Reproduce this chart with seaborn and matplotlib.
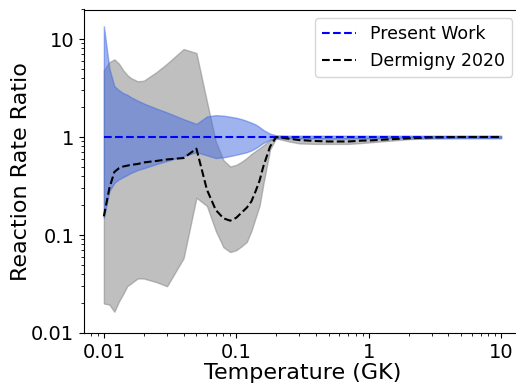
import numpy as np
import pandas as pd
import matplotlib
matplotlib.use("Agg")
import matplotlib.pyplot as plt
import seaborn as sns
from matplotlib.ticker import FixedLocator, FixedFormatter, LogLocator, NullFormatter

# Temperature grid (GK)
temperature = [0.01, 0.011, 0.012, 0.013, 0.014, 0.015, 0.016, 0.018, 0.02, 0.025,
               0.03, 0.04, 0.05, 0.06, 0.07, 0.08, 0.09, 0.1, 0.11, 0.12,
               0.13, 0.14, 0.15, 0.16, 0.18, 0.2, 0.25, 0.3, 0.4, 0.5,
               0.6, 0.7, 0.8, 0.9, 1.0, 1.5, 2.0, 3.0, 5.0, 7.0, 10.0]

# Present work: recommended rate normalised to itself, with low/high bounds
present_median = [1.0] * len(temperature)
present_low = [0.15, 0.28, 0.34, 0.37, 0.39, 0.41, 0.43, 0.46, 0.48, 0.53,
               0.57, 0.64, 0.70, 0.65, 0.61, 0.62, 0.64, 0.66, 0.68, 0.70,
               0.73, 0.77, 0.82, 0.87, 0.94, 0.97, 0.97, 0.97, 0.97, 0.97,
               0.97, 0.97, 0.97, 0.97, 0.97, 0.97, 0.97, 0.97, 0.97, 0.97, 0.97]
present_high = [13.5, 5.0, 3.3, 3.0, 2.8, 2.7, 2.55, 2.35, 2.2, 1.95,
                1.78, 1.52, 1.36, 1.62, 1.67, 1.65, 1.61, 1.57, 1.52, 1.46,
                1.40, 1.34, 1.26, 1.18, 1.08, 1.04, 1.03, 1.03, 1.03, 1.03,
                1.03, 1.03, 1.03, 1.03, 1.03, 1.03, 1.03, 1.03, 1.03, 1.03, 1.03]

# Dermigny et al. (2020) rate relative to the present recommended rate
dermigny_median = [0.155, 0.30, 0.44, 0.48, 0.50, 0.51, 0.52, 0.53, 0.55, 0.57,
                   0.59, 0.61, 0.76, 0.29, 0.18, 0.148, 0.14, 0.15, 0.17, 0.19,
                   0.22, 0.28, 0.36, 0.50, 0.80, 1.0, 0.96, 0.93, 0.91, 0.90,
                   0.90, 0.90, 0.91, 0.92, 0.92, 0.95, 0.97, 0.99, 1.0, 1.0, 1.0]
dermigny_low = [0.020, 0.0195, 0.0165, 0.021, 0.025, 0.030, 0.032, 0.036, 0.036, 0.033,
                0.030, 0.058, 0.24, 0.198, 0.11, 0.075, 0.067, 0.07, 0.077, 0.085,
                0.11, 0.15, 0.20, 0.33, 0.75, 0.97, 0.90, 0.86, 0.85, 0.85,
                0.85, 0.85, 0.86, 0.87, 0.88, 0.92, 0.95, 0.97, 0.98, 0.98, 0.98]
dermigny_high = [4.8, 5.8, 6.2, 5.6, 4.8, 4.3, 4.0, 3.7, 3.75, 4.6,
                 5.6, 7.9, 7.2, 2.3, 0.9, 0.58, 0.5, 0.52, 0.56, 0.61,
                 0.67, 0.72, 0.77, 0.82, 0.93, 1.0, 1.0, 0.99, 0.98, 0.97,
                 0.97, 0.97, 0.98, 0.98, 0.99, 1.0, 1.01, 1.02, 1.02, 1.02, 1.02]

df = pd.DataFrame({
    "T": temperature,
    "present": present_median,
    "present_low": present_low,
    "present_high": present_high,
    "dermigny": dermigny_median,
    "dermigny_low": dermigny_low,
    "dermigny_high": dermigny_high,
})

fig = plt.figure(figsize=(5.16, 3.83), dpi=100)
ax = fig.add_axes([84 / 516, 50 / 383, 437 / 516, 323.5 / 383])

ax.fill_between(df["T"], df["dermigny_low"], df["dermigny_high"], color="gray", alpha=0.5)
ax.fill_between(df["T"], df["present_low"], df["present_high"], color="royalblue", alpha=0.5)

sns.lineplot(data=df, x="T", y="present", ax=ax, color="b", linestyle="--",
             linewidth=1.5, label="Present Work")
sns.lineplot(data=df, x="T", y="dermigny", ax=ax, color="k", linestyle="--",
             linewidth=1.5, label="Dermigny 2020")

ax.set_xscale("log")
ax.set_yscale("log")
ax.set_xlim(10 ** -2.15, 10 ** 1.15)
ax.set_ylim(0.01, 20)

xticks = [0.01, 0.1, 1, 10]
yticks = [0.01, 0.1, 1, 10]
tick_labels = ["0.01", "0.1", "1", "10"]
ax.xaxis.set_major_locator(FixedLocator(xticks))
ax.xaxis.set_major_formatter(FixedFormatter(tick_labels))
ax.yaxis.set_major_locator(FixedLocator(yticks))
ax.yaxis.set_major_formatter(FixedFormatter(tick_labels))
for axis in (ax.xaxis, ax.yaxis):
    axis.set_minor_locator(LogLocator(base=10, subs=np.arange(2, 10)))
    axis.set_minor_formatter(NullFormatter())
ax.tick_params(axis="both", which="major", labelsize=14)

ax.set_xlabel("Temperature (GK)", fontsize=16, labelpad=1)
ax.set_ylabel("Reaction Rate Ratio", fontsize=16, labelpad=0)
ax.legend(loc="upper right", fontsize=12.5)

fig.savefig("out.png", dpi=100)
